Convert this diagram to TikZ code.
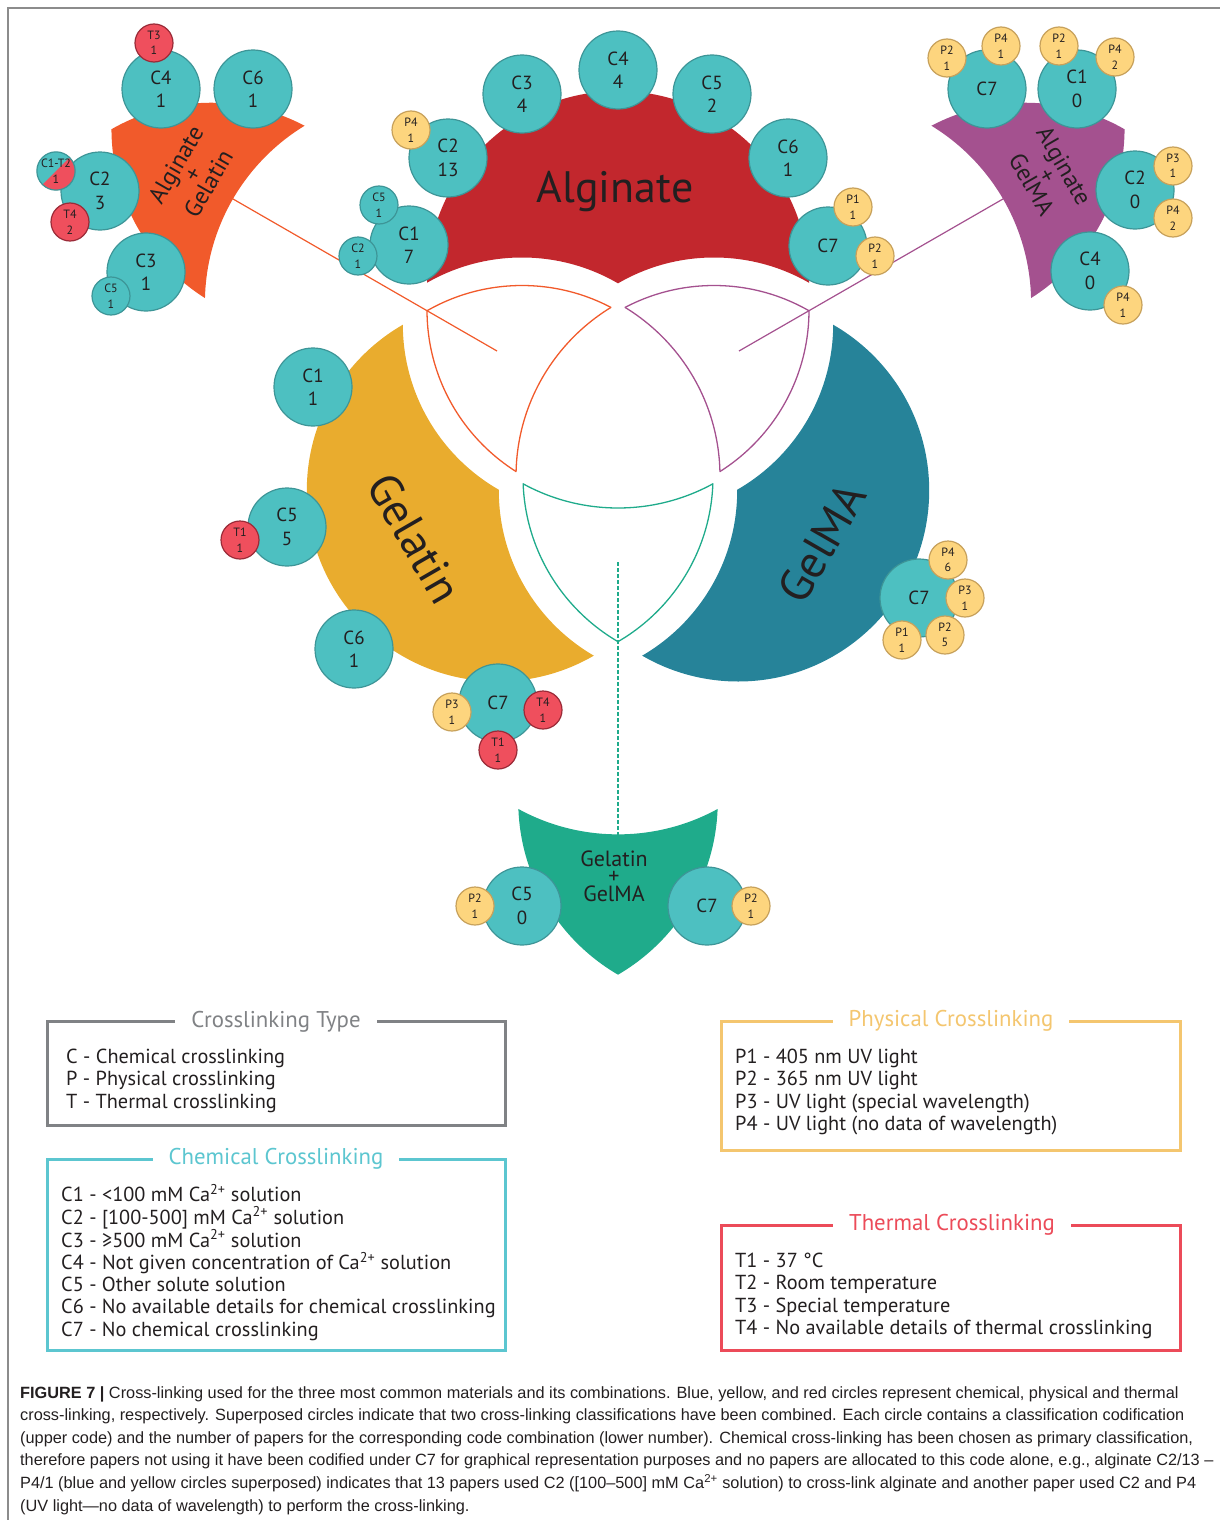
\documentclass[tikz,border=0pt]{standalone}
\usepackage{fontspec}
\setmainfont{PT Sans}
\newfontfamily\capfont{Liberation Sans}
\usetikzlibrary{positioning}

% colours
\definecolor{algred}{HTML}{C2272D}
\definecolor{gelyel}{HTML}{E9AC2E}
\definecolor{gmablue}{HTML}{268399}
\definecolor{agorange}{HTML}{F15A2B}
\definecolor{ampurple}{HTML}{A4518F}
\definecolor{ggreen}{HTML}{1FAB8B}
\definecolor{chemfill}{HTML}{4DC0C1}
\definecolor{chemline}{HTML}{3D9597}
\definecolor{physfill}{HTML}{FDD57E}
\definecolor{physline}{HTML}{C7A15B}
\definecolor{thermfill}{HTML}{EF4F5D}
\definecolor{thermline}{HTML}{9A2B38}
\definecolor{txt}{HTML}{231F20}
\definecolor{framegray}{HTML}{8C8C8C}
\definecolor{typegray}{HTML}{808285}
\definecolor{chemcyan}{HTML}{5CC6D0}
\definecolor{physyel}{HTML}{F4C66F}
\definecolor{thermred}{HTML}{EC4B59}

\newcommand{\vennr}{191}
\newcommand{\vennx}{198}
% keep only what lies outside a circle
\newcommand{\venncut}[2]{\clip (-3000,-3000) -- (3000,-3000) -- (3000,3000) -- (-3000,3000) -- cycle
  (#1) ++(#2,0) arc[start angle=0,end angle=-360,radius=#2] -- cycle;}
% outline of #1 and #2 overlapping, without #3
\newcommand{\lensline}[4]{%
  \begin{scope}\clip (#1) circle (\vennr); \venncut{#3}{\vennx} \draw[#4] (#2) circle (\vennr); \end{scope}
  \begin{scope}\clip (#2) circle (\vennr); \venncut{#3}{\vennx} \draw[#4] (#1) circle (\vennr); \end{scope}
  \begin{scope}\clip (#1) circle (\vennr); \clip (#2) circle (\vennr); \draw[#4] (#3) circle (\vennx); \end{scope}}
\newcommand{\lensfill}[4]{%
  \begin{scope}\clip (#1) circle (\vennr); \clip (#2) circle (\vennr); \venncut{#3}{\vennx} \fill[#4] (-3000,-3000) rectangle (3000,3000); \end{scope}}

\tikzset{
  chem/.style={circle,draw=chemline,line width=1.2pt,fill=chemfill,minimum size=78pt,inner sep=0pt,align=center,text=txt,font=\fontsize{19}{23.5}\selectfont},
  phys/.style={circle,draw=physline,line width=1.2pt,fill=physfill,minimum size=38pt,inner sep=0pt,align=center,text=txt,font=\fontsize{12}{15.5}\selectfont},
  therm/.style={phys,draw=thermline,fill=thermfill},
  chems/.style={phys,draw=chemline,fill=chemfill},
  lens/.style={line width=1.3pt},
  legbox/.style={line width=3pt},
  legtitle/.style={fill=white,inner xsep=16pt,inner ysep=2pt,font=\fontsize{22.8}{26}\selectfont},
  legtext/.style={anchor=north west,align=left,inner sep=0pt,text=txt,font=\fontsize{20.3}{22.2}\selectfont},
  captext/.style={anchor=base west,inner sep=0pt,text=txt,font=\capfont\fontsize{16.3}{18}\selectfont},
}

\begin{document}
\begin{tikzpicture}[x=1pt,y=-1pt]
\useasboundingbox (0,0) rectangle (1220,1520);
% frame
\draw[framegray,line width=1.5pt] (8,1520) -- (8,8) -- (1220,8);

% connectors
\coordinate (agel-from) at (207,184);
\coordinate (agel-to) at (497,351);
\coordinate (agma-from) at (1029,184);
\coordinate (agma-to) at (739,351);
\coordinate (gg-from) at (618,562);
\coordinate (gg-to) at (618,864);
\draw[agorange,line width=1.2pt] (agel-from) -- (agel-to);
\draw[ampurple,line width=1.2pt] (agma-from) -- (agma-to);
\draw[ggreen,line width=1.2pt,dash pattern=on 4pt off 2pt] (gg-from) -- (gg-to);

% exploded venn
\begin{scope}[shift={(618,421)},yscale=-1]
  % Alginate
  \begin{scope}[shift={(0,28)}]
    \venncut{-96,-55.5}{\vennr} \venncut{96,-55.5}{\vennr}
    \fill[algred] (0,111) circle (\vennr);
  \end{scope}
  % Gelatin
  \begin{scope}[shift={(-24.2,-14)}]
    \venncut{0,111}{\vennr} \venncut{96,-55.5}{\vennr}
    \fill[gelyel] (-96,-55.5) circle (\vennr);
  \end{scope}
  % GelMA
  \begin{scope}[shift={(24.2,-14)}]
    \venncut{0,111}{\vennr} \venncut{-96,-55.5}{\vennr}
    \fill[gmablue] (96,-55.5) circle (\vennr);
  \end{scope}
  % overlaps
  \lensline{0,111}{-96,-55.5}{96,-55.5}{agorange,lens}
  \lensline{0,111}{96,-55.5}{-96,-55.5}{ampurple,lens}
  \lensline{-96,-55.5}{96,-55.5}{0,111}{ggreen,lens}
  % combination shapes
  \begin{scope}[shift={(-306,176)},scale=1.05]
    \lensfill{0,111}{-96,-55.5}{96,-55.5}{agorange}
  \end{scope}
  \begin{scope}[shift={(306,176)},scale=1.05]
    \lensfill{0,111}{96,-55.5}{-96,-55.5}{ampurple}
  \end{scope}
  \begin{scope}[shift={(0,-322)},scale=1.05]
    \lensfill{-96,-55.5}{96,-55.5}{0,111}{ggreen}
  \end{scope}
\end{scope}

% material names
\node[text=txt,font=\fontsize{44}{48}\selectfont] (alg-label) at (615,192) {Alginate};
\node[text=txt,font=\fontsize{46}{50}\selectfont,rotate=-60] (gel-label) at (415,538) {Gelatin};
\node[text=txt,font=\fontsize{46}{50}\selectfont,rotate=60] (gma-label) at (822,543) {GelMA};
\node[text=txt,align=center,font=\fontsize{24}{17}\selectfont,rotate=60] (agel-label) at (192,174) {Alginate\\+\\Gelatin};
\node[text=txt,align=center,font=\fontsize{24}{17}\selectfont,rotate=-60] (agma-label) at (1048,175) {Alginate\\+\\GelMA};
\node[text=txt,align=center,font=\fontsize{22}{17.5}\selectfont] (gg-label) at (614,876) {Gelatin\\+\\GelMA};

% Alginate circles
\node[chem] (alg-c4) at (618,70) {C4\\4};
\node[chem] (alg-c3) at (522,94) {C3\\4};
\node[chem] (alg-c5) at (712,94) {C5\\2};
\node[chem] (alg-c2) at (448,158) {C2\\13};
\node[chem] (alg-c6) at (788,158) {C6\\1};
\node[chem] (alg-c1) at (409,245) {C1\\7};
\node[chem] (alg-c7) at (828,246) {C7};
\node[phys] (alg-p4) at (411,130) {P4\\1};
\node[chems] (alg-c5s) at (379,205) {C5\\1};
\node[chems] (alg-c2s) at (358,256) {C2\\1};
\node[phys] (alg-p1) at (853,207) {P1\\1};
\node[phys] (alg-p2) at (875,256) {P2\\1};

% Alginate + Gelatin circles
\node[chem] (agel-c4) at (161,89) {C4\\1};
\node[chem] (agel-c6) at (253,89) {C6\\1};
\node[therm] (agel-t3) at (154,43) {T3\\1};
\node[chem] (agel-c2) at (100,191) {C2\\3};
\node[chems,path picture={\fill[thermfill] (path picture bounding box.north east) -- (path picture bounding box.south west) -- (path picture bounding box.south east) -- cycle;}] (agel-c1t2) at (56,171) {C1-T2\\1};
\node[therm] (agel-t4) at (70,222) {T4\\2};
\node[chem] (agel-c3) at (146,272) {C3\\1};
\node[chems] (agel-c5) at (111,296) {C5\\1};

% Alginate + GelMA circles
\node[chem] (agma-c7) at (987,89) {C7};
\node[chem] (agma-c1) at (1077,89) {C1\\0};
\node[phys] (agma-p2a) at (947,58) {P2\\1};
\node[phys] (agma-p4a) at (1001,46) {P4\\1};
\node[phys] (agma-p2b) at (1059,46) {P2\\1};
\node[phys] (agma-p4b) at (1115,57) {P4\\2};
\node[chem] (agma-c2) at (1135,190) {C2\\0};
\node[phys] (agma-p3) at (1173,166) {P3\\1};
\node[phys] (agma-p4c) at (1173,218) {P4\\2};
\node[chem] (agma-c4) at (1090,271) {C4\\0};
\node[phys] (agma-p4d) at (1123,305) {P4\\1};

% Gelatin circles
\node[chem] (gel-c1) at (313,387) {C1\\1};
\node[chem] (gel-c5) at (287,527) {C5\\5};
\node[therm] (gel-t1a) at (240,540) {T1\\1};
\node[chem] (gel-c6) at (354,649) {C6\\1};
\node[chem] (gel-c7) at (498,703) {C7};
\node[phys] (gel-p3) at (452,712) {P3\\1};
\node[therm] (gel-t4) at (543,710) {T4\\1};
\node[therm] (gel-t1b) at (498,750) {T1\\1};

% GelMA circles
\node[chem] (gma-c7) at (919,598) {C7};
\node[phys] (gma-p4) at (948,560) {P4\\6};
\node[phys] (gma-p3) at (965,598) {P3\\1};
\node[phys] (gma-p2) at (945,635) {P2\\5};
\node[phys] (gma-p1) at (902,640) {P1\\1};

% Gelatin + GelMA circles
\node[chem] (gg-c5) at (522,906) {C5\\0};
\node[phys] (gg-p2a) at (475,906) {P2\\1};
\node[chem] (gg-c7) at (707,906) {C7};
\node[phys] (gg-p2b) at (751,906) {P2\\1};

% legend boxes
\draw[typegray,legbox] (47,1021) rectangle (505,1125);
\node[legtitle,text=typegray] (type-title) at (276,1022) {Crosslinking Type};
\node[legtext] (type-list) at (66,1049) {C - Chemical crosslinking\\P - Physical crosslinking\\T - Thermal crosslinking};

\draw[chemcyan,legbox] (47,1159) rectangle (505,1350);
\node[legtitle,text=chemcyan] (chem-title) at (276,1159) {Chemical Crosslinking};
\node[legtext] (chem-list) at (61,1184) {C1 - <100 mM Ca\textsuperscript{2+} solution\\
  C2 - [100-500] mM Ca\textsuperscript{2+} solution\\
  C3 - ≥500 mM Ca\textsuperscript{2+} solution\\
  C4 - Not given concentration of Ca\textsuperscript{2+} solution\\
  C5 - Other solute solution\\
  C6 - No available details for chemical crosslinking\\
  C7 - No chemical crosslinking};

\draw[physyel,legbox] (721,1021) rectangle (1180,1150);
\node[legtitle,text=physyel] (phys-title) at (951,1021) {Physical Crosslinking};
\node[legtext] (phys-list) at (735,1049) {P1 - 405 nm UV light\\P2 - 365 nm UV light\\P3 - UV light (special wavelength)\\P4 - UV light (no data of wavelength)};

\draw[thermred,legbox] (721,1225) rectangle (1180,1350);
\node[legtitle,text=thermred] (therm-title) at (952,1225) {Thermal Crosslinking};
\node[legtext] (therm-list) at (735,1253) {T1 - 37 °C\\T2 - Room temperature\\T3 - Special temperature\\T4 - No available details of thermal crosslinking};

% caption
\node[captext] (cap-1) at (20,1398) {\textbf{FIGURE 7 |} Cross-linking used for the three most common materials and its combinations. Blue, yellow, and red circles represent chemical, physical and thermal};
\node[captext] (cap-2) at (20,1420.6) {cross-linking, respectively. Superposed circles indicate that two cross-linking classifications have been combined. Each circle contains a classification codification};
\node[captext] (cap-3) at (20,1443.2) {(upper code) and the number of papers for the corresponding code combination (lower number). Chemical cross-linking has been chosen as primary classification,};
\node[captext] (cap-4) at (20,1465.8) {therefore papers not using it have been codified under C7 for graphical representation purposes and no papers are allocated to this code alone, e.g., alginate C2/13 –};
\node[captext] (cap-5) at (20,1488.4) {P4/1 (blue and yellow circles superposed) indicates that 13 papers used C2 ([100–500] mM Ca\textsuperscript{2+} solution) to cross-link alginate and another paper used C2 and P4};
\node[captext] (cap-6) at (20,1511) {(UV light—no data of wavelength) to perform the cross-linking.};
\end{tikzpicture}
\end{document}
